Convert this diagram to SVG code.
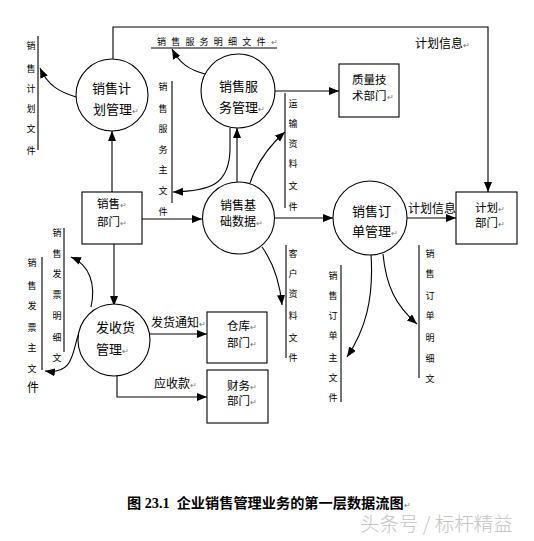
<svg xmlns="http://www.w3.org/2000/svg" width="534" height="541" viewBox="0 0 534 541">
<style>
.ln{fill:none;stroke:#000;stroke-width:1.1}
.ar{marker-end:url(#ah)}
.nd{fill:#fff;stroke:#000;stroke-width:1.1}
.t{font-family:"Noto Sans CJK SC","Liberation Sans",sans-serif;font-size:13px;fill:#000}
.tb{font-family:"Noto Sans CJK SC","Liberation Sans",sans-serif;font-size:11.5px;fill:#000}
.lb{font-family:"Noto Sans CJK SC","Liberation Sans",sans-serif;font-size:12px;fill:#000}
.s{font-family:"Noto Sans CJK SC","Liberation Sans",sans-serif;font-size:9px;fill:#000;text-anchor:middle}
.r{font-size:8px;fill:#777}
</style>
<defs>
<marker id="ah" markerUnits="userSpaceOnUse" markerWidth="10" markerHeight="8" refX="10" refY="4" orient="auto">
<path d="M0,0 L10,4 L0,8 z" fill="#000"/>
</marker>
</defs>
<rect width="534" height="541" fill="#fff"/>

<g id="connectors">
<path class="ln ar" d="M113,59 L113,27 L488,27 L488,192"/>
<path class="ln ar" d="M112,192 L112,131"/>
<path class="ln ar" d="M274,91 L339,91"/>
<path class="ln ar" d="M237,182 L237,128"/>
<path class="ln ar" d="M142,219 L202,219"/>
<path class="ln ar" d="M275,218 L333,218"/>
<path class="ln ar" d="M407,218 L456,218"/>
<path class="ln ar" d="M114,244 L114,306"/>
<path class="ln ar" d="M150,334 L207,334"/>
<path class="ln ar" d="M117,373 L117,397 L207,397"/>
<path class="ln ar" d="M76,97 C60,92 48,86 40,68"/>
<path class="ln ar" d="M205,74 C190,70 180,64 172,49"/>
<path class="ln ar" d="M230,128 L230,150 C229,185 210,191 173,192"/>
<path class="ln ar" d="M250,183 C258,160 270,145 285,132"/>
<path class="ln ar" d="M262,247 C275,265 280,285 282,305"/>
<path class="ln ar" d="M371,254 C374,300 365,330 347,357"/>
<path class="ln ar" d="M383,254 C386,285 395,305 417,324"/>
<path class="ln ar" d="M91,307 C96,285 90,265 71,257"/>
<path class="ln ar" d="M79,333 C72,350 75,375 45,371"/>
</g>

<g id="labels">
<text class="lb" x="415" y="48">计划信息<tspan class="r">↵</tspan></text>
<text class="lb" x="408" y="213">计划信息<tspan class="r">↵</tspan></text>
<text class="lb" x="151" y="327">发货通知<tspan class="r">↵</tspan></text>
<text class="lb" x="154" y="388">应收款<tspan class="r">↵</tspan></text>
</g>

<g id="p-plan">
<circle class="nd" cx="112" cy="95" r="36"/>
<text class="t"><tspan x="92" y="93">销售计</tspan><tspan x="93" y="114">划管理</tspan><tspan class="r">↵</tspan></text>
</g>
<g id="p-service">
<circle class="nd" cx="238" cy="91" r="37"/>
<text class="t"><tspan x="219" y="91">销售服</tspan><tspan x="219" y="112">务管理</tspan><tspan class="r">↵</tspan></text>
</g>
<g id="p-base">
<circle class="nd" cx="238.5" cy="218" r="36"/>
<text class="t" style="font-size:12px"><tspan x="220" y="209.5">销售基</tspan><tspan x="220" y="225.5">础数据</tspan><tspan class="r">↵</tspan></text>
</g>
<g id="p-order">
<circle class="nd" cx="370" cy="218" r="37"/>
<text class="t"><tspan x="352" y="216">销售订</tspan><tspan x="352" y="236">单管理</tspan><tspan class="r">↵</tspan></text>
</g>
<g id="p-ship">
<circle class="nd" cx="114" cy="340" r="36"/>
<text class="t"><tspan x="96" y="332">发收货</tspan><tspan x="96" y="354">管理</tspan><tspan class="r">↵</tspan></text>
</g>

<g id="b-sales">
<rect class="nd" x="82" y="192" width="60" height="52"/>
<text class="tb"><tspan x="97" y="207.5">销售</tspan><tspan class="r">↵</tspan><tspan x="97" y="226">部门</tspan><tspan class="r">↵</tspan></text>
</g>
<g id="b-quality">
<rect class="nd" x="339" y="64" width="60" height="53"/>
<text class="tb"><tspan x="352" y="83.5">质量技</tspan><tspan x="352" y="99.5">术部门</tspan><tspan class="r">↵</tspan></text>
</g>
<g id="b-planning">
<rect class="nd" x="456" y="192" width="61" height="52"/>
<text class="tb"><tspan x="475" y="211.5">计划</tspan><tspan class="r">↵</tspan><tspan x="475" y="226.5">部门</tspan><tspan class="r">↵</tspan></text>
</g>
<g id="b-warehouse">
<rect class="nd" x="207" y="312" width="60" height="51"/>
<text class="tb"><tspan x="227" y="329.5">仓库</tspan><tspan class="r">↵</tspan><tspan x="227" y="346.5">部门</tspan><tspan class="r">↵</tspan></text>
</g>
<g id="b-finance">
<rect class="nd" x="207" y="370" width="61" height="53"/>
<text class="tb"><tspan x="227" y="389.5">财务</tspan><tspan class="r">↵</tspan><tspan x="227" y="404.5">部门</tspan><tspan class="r">↵</tspan></text>
</g>

<g id="d-plan-file">
<line class="ln" x1="38" y1="36" x2="38" y2="150"/>
<text class="s"><tspan x="31" y="48.5">销</tspan><tspan x="31" y="71.5">售</tspan><tspan x="31" y="91.5">计</tspan><tspan x="31" y="111.5">划</tspan><tspan x="31" y="131.5">文</tspan><tspan x="31" y="153.5">件</tspan></text>
</g>
<g id="d-service-detail">
<line class="ln" x1="151" y1="48" x2="277" y2="48"/>
<text class="s" style="text-anchor:start;letter-spacing:5.2px" x="157" y="44.5">销售服务明细文件<tspan class="r" style="letter-spacing:0">↵</tspan></text>
</g>
<g id="d-service-main">
<line class="ln" x1="172" y1="81" x2="172" y2="203"/>
<text class="s"><tspan x="163" y="89.5">销</tspan><tspan x="163" y="111.5">售</tspan><tspan x="163" y="131.5">服</tspan><tspan x="163" y="152.5">务</tspan><tspan x="163" y="172.5">主</tspan><tspan x="163" y="193.5">文</tspan><tspan x="163" y="214.5">件</tspan></text>
</g>
<g id="d-transport">
<line class="ln" x1="285" y1="93" x2="285" y2="208"/>
<text class="s"><tspan x="293" y="106.5">运</tspan><tspan x="293" y="126.5">输</tspan><tspan x="293" y="146.5">资</tspan><tspan x="293" y="166.5">料</tspan><tspan x="293" y="188.5">文</tspan><tspan x="293" y="209.5">件</tspan></text>
</g>
<g id="d-customer">
<line class="ln" x1="286" y1="245" x2="286" y2="358"/>
<text class="s"><tspan x="293" y="256.5">客</tspan><tspan x="293" y="276.5">户</tspan><tspan x="293" y="296.5">资</tspan><tspan x="293" y="318.5">料</tspan><tspan x="293" y="340.5">文</tspan><tspan x="293" y="360.5">件</tspan></text>
</g>
<g id="d-order-main">
<line class="ln" x1="341" y1="265" x2="341" y2="402"/>
<text class="s"><tspan x="333" y="278.5">销</tspan><tspan x="333" y="298.5">售</tspan><tspan x="333" y="318.5">订</tspan><tspan x="333" y="338.5">单</tspan><tspan x="333" y="360.5">主</tspan><tspan x="333" y="380.5">文</tspan><tspan x="333" y="400.5">件</tspan></text>
</g>
<g id="d-order-detail">
<line class="ln" x1="419" y1="245" x2="419" y2="378"/>
<text class="s"><tspan x="430" y="256.5">销</tspan><tspan x="430" y="276.5">售</tspan><tspan x="430" y="298.5">订</tspan><tspan x="430" y="318.5">单</tspan><tspan x="430" y="340.5">明</tspan><tspan x="430" y="361.5">细</tspan><tspan x="430" y="381.5">文</tspan></text>
</g>
<g id="d-invoice-detail">
<line class="ln" x1="64" y1="228" x2="64" y2="352"/>
<text class="s"><tspan x="57" y="235.5">销</tspan><tspan x="57" y="256.5">售</tspan><tspan x="57" y="276.5">发</tspan><tspan x="57" y="297.5">票</tspan><tspan x="57" y="318.5">明</tspan><tspan x="57" y="340.5">细</tspan><tspan x="57" y="360.5">文</tspan></text>
</g>
<g id="d-invoice-main">
<line class="ln" x1="42" y1="257" x2="42" y2="370"/>
<text class="s"><tspan x="32" y="265.5">销</tspan><tspan x="32" y="288.5">售</tspan><tspan x="32" y="308.5">发</tspan><tspan x="32" y="330.5">票</tspan><tspan x="32" y="350.5">主</tspan><tspan x="32" y="371.5">文</tspan><tspan x="33" y="392" style="font-size:12px">件</tspan></text>
</g>

<g id="caption">
<text x="127" y="508" xml:space="preserve" style="font-family:'Liberation Serif','Noto Sans CJK SC',serif;font-size:14.2px;font-weight:bold;fill:#000">图 23.1  企业销售管理业务的第一层数据流图<tspan class="r" style="font-weight:normal">↵</tspan></text>
<text x="360" y="530.5" style="font-family:'Noto Sans CJK SC',sans-serif;font-size:19.5px;font-weight:300;fill:#c4c4c4">头条号 / 标杆精益</text>
</g>
</svg>
